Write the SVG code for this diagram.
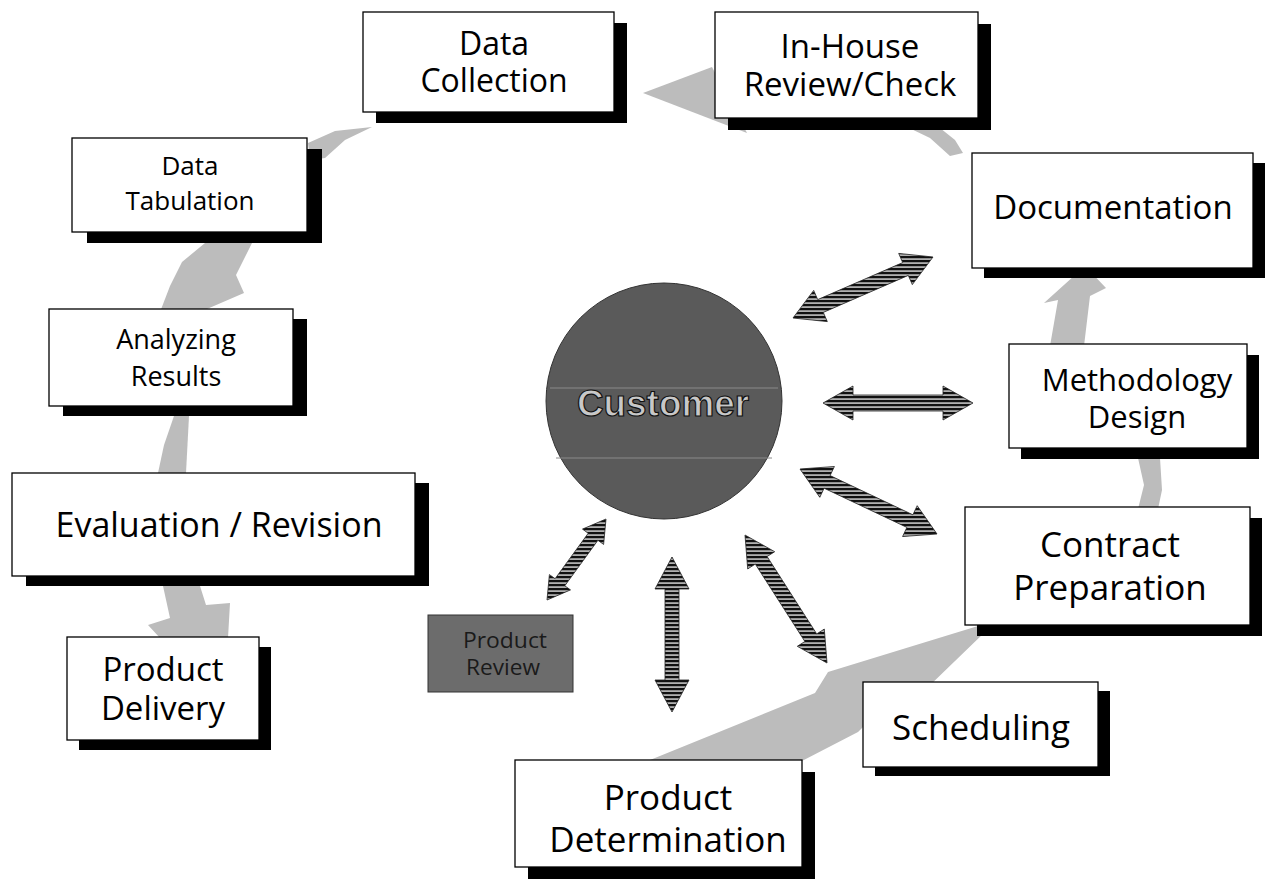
<svg xmlns="http://www.w3.org/2000/svg" width="1269" height="883" viewBox="0 0 1269 883">
<defs>
<pattern id="stripes" patternUnits="userSpaceOnUse" width="4" height="4">
<rect width="4" height="4" fill="#b0b0b0"/>
<rect width="4" height="2.2" fill="#111"/>
</pattern>
<style>
.box{fill:#fff;stroke:#000;stroke-width:1.3}
.shadow{fill:#000}
.flow{fill:#bcbcbc}
.dbl{fill:url(#stripes);stroke:#222;stroke-width:0.8}
.lbl{font-family:"Open Sans","Liberation Sans",sans-serif;fill:#000;text-anchor:middle}
</style>
</defs>
<rect width="1269" height="883" fill="#fff"/>

<g id="flow-arrows">
<polygon class="flow" points="643,93 712,67 747,133"/>
<polygon class="flow" points="905,126 935,124 955,140 963,153 950,156 930,138"/>
<polygon class="flow" points="308,143 335,131 372,127 345,140 325,158 310,160"/>
<polygon class="flow" points="205,243 252,243 236,275 244,293 200,312 160,312 170,286 182,262"/>
<polygon class="flow" points="174,416 189,416 186,473 158,473 164,445"/>
<polygon class="flow" points="163,586 200,586 206,605 230,603 228,638 160,638 148,625 170,618"/>
<polygon class="flow" points="1085,266 1106,288 1090,296 1084,346 1050,346 1058,300 1044,303"/>
<polygon class="flow" points="1138,458 1160,458 1162,490 1158,509 1138,509 1144,485"/>
<polygon class="flow" points="650,760 815,693 828,672 978,626 985,632 925,690 870,720 858,732 800,762"/>
</g>

<g id="connectors">
<polygon class="dbl" points="793,318 827.3,321.6 823.3,312.4 908.3,275.4 912.3,284.6 933,257 898.7,253.4 902.7,262.6 817.7,299.6 813.7,290.4"/>
<polygon class="dbl" points="823,403 853,420 853,411 943,411 943,420 973,403 943,386 943,395 853,395 853,386"/>
<polygon class="dbl" points="800,469 819.8,497.3 824.1,488.2 906.9,527.4 902.6,536.5 937,534 917.2,505.7 912.9,514.8 830.1,475.6 834.4,466.5"/>
<polygon class="dbl" points="745,535 747.7,568.9 755.3,564.1 804.9,641.5 797.3,646.3 827,663 824.3,629.1 816.7,633.9 767.1,556.5 774.7,551.7"/>
<polygon class="dbl" points="672,557 689,589 679,589 679,680 689,680 672,712 655,680 665,680 665,589 655,589"/>
<polygon class="dbl" points="606,519 582.5,529.1 588.2,533.3 555.1,578.7 549.4,574.6 547,600 570.5,589.9 564.8,585.8 597.9,540.3 603.6,544.4"/>
</g>

<g id="customer">
<circle cx="664" cy="401" r="118" fill="#5a5a5a" stroke="#333" stroke-width="1"/>
<line x1="550" y1="388" x2="778" y2="388" stroke="#8a8a8a" stroke-width="1"/>
<line x1="556" y1="458" x2="772" y2="458" stroke="#8a8a8a" stroke-width="1"/>
<text x="663" y="416" font-family="Liberation Sans, Arial, sans-serif" font-size="37" font-weight="bold" fill="#c8c8c8" stroke="#111" stroke-width="1.2" text-anchor="middle" textLength="172" lengthAdjust="spacingAndGlyphs">Customer</text>
</g>

<g id="product-review">
<rect x="428" y="615" width="145" height="77" fill="#6c6c6c" stroke="#333" stroke-width="1"/>
<text x="505" y="648" font-family="Open Sans, sans-serif" font-size="22" fill="#1a1a1a" text-anchor="middle" textLength="84" lengthAdjust="spacingAndGlyphs">Product</text>
<text x="503" y="675" font-family="Open Sans, sans-serif" font-size="22" fill="#1a1a1a" text-anchor="middle" textLength="74" lengthAdjust="spacingAndGlyphs">Review</text>
</g>

<g id="data-collection">
<rect class="shadow" x="376" y="23" width="251" height="100"/>
<rect class="box" x="363" y="12" width="251" height="100"/>
<text class="lbl" x="494" y="55" font-size="32">Data</text>
<text class="lbl" x="494" y="92" font-size="32">Collection</text>
</g>

<g id="in-house-review">
<rect class="shadow" x="728" y="24" width="263" height="106"/>
<rect class="box" x="715" y="12" width="263" height="106"/>
<text class="lbl" x="850" y="58" font-size="33">In-House</text>
<text class="lbl" x="850" y="96" font-size="33">Review/Check</text>
</g>

<g id="data-tabulation">
<rect class="shadow" x="87" y="149" width="235" height="94"/>
<rect class="box" x="72" y="138" width="235" height="94"/>
<text class="lbl" x="190" y="175" font-size="26">Data</text>
<text class="lbl" x="190" y="210" font-size="26">Tabulation</text>
</g>

<g id="analyzing-results">
<rect class="shadow" x="63" y="319" width="244" height="97"/>
<rect class="box" x="49" y="309" width="244" height="97"/>
<text class="lbl" x="176" y="349" font-size="27">Analyzing</text>
<text class="lbl" x="176" y="386" font-size="27">Results</text>
</g>

<g id="evaluation-revision">
<rect class="shadow" x="26" y="483" width="403" height="103"/>
<rect class="box" x="12" y="473" width="403" height="103"/>
<text class="lbl" x="219" y="537" font-size="34">Evaluation / Revision</text>
</g>

<g id="product-delivery">
<rect class="shadow" x="79" y="647" width="192" height="103"/>
<rect class="box" x="67" y="637" width="192" height="103"/>
<text class="lbl" x="163" y="681" font-size="33">Product</text>
<text class="lbl" x="163" y="720" font-size="33">Delivery</text>
</g>

<g id="documentation">
<rect class="shadow" x="984" y="163" width="281" height="115"/>
<rect class="box" x="972" y="153" width="281" height="115"/>
<text class="lbl" x="1113" y="219" font-size="33">Documentation</text>
</g>

<g id="methodology-design">
<rect class="shadow" x="1021" y="355" width="238" height="104"/>
<rect class="box" x="1009" y="344" width="238" height="104"/>
<text class="lbl" x="1137" y="391" font-size="31">Methodology</text>
<text class="lbl" x="1137" y="428" font-size="31">Design</text>
</g>

<g id="contract-preparation">
<rect class="shadow" x="977" y="518" width="285" height="118"/>
<rect class="box" x="965" y="507" width="285" height="118"/>
<text class="lbl" x="1110" y="557" font-size="35">Contract</text>
<text class="lbl" x="1110" y="600" font-size="35">Preparation</text>
</g>

<g id="scheduling">
<rect class="shadow" x="875" y="691" width="235" height="85"/>
<rect class="box" x="863" y="682" width="235" height="85"/>
<text class="lbl" x="981" y="740" font-size="35">Scheduling</text>
</g>

<g id="product-determination">
<rect class="shadow" x="528" y="772" width="287" height="107"/>
<rect class="box" x="515" y="760" width="287" height="107"/>
<text class="lbl" x="668" y="810" font-size="35">Product</text>
<text class="lbl" x="668" y="852" font-size="35">Determination</text>
</g>
</svg>
